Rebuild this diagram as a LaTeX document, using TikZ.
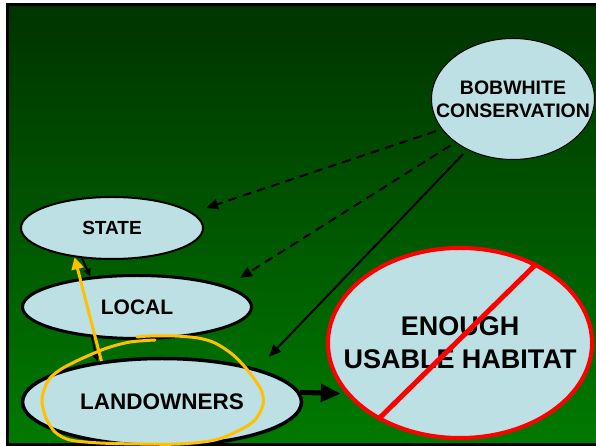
\documentclass[tikz,border=0pt]{standalone}
\usepackage{fontspec}
\setmainfont{Liberation Sans}
\usetikzlibrary{shapes.geometric,arrows.meta,calc}

\definecolor{topgreen}{RGB}{0,51,0}
\definecolor{bottomgreen}{RGB}{0,122,0}
\definecolor{paleblue}{RGB}{188,224,228}
\definecolor{marker}{RGB}{255,192,0}

\tikzset{
  bubble/.style={ellipse,fill=paleblue,draw=black,inner sep=0pt},
  caption/.style 2 args={align=center,font=\fontsize{#1}{#2}\selectfont\bfseries},
  dasharrow/.style={line width=2pt,dash pattern=on 9pt off 6pt,shorten <=6pt,-{Triangle[length=12pt,width=10pt]}},
}

\begin{document}
\begin{tikzpicture}[x=1pt,y=1pt]
\useasboundingbox (0,0) rectangle (596,446);
\shade[top color=topgreen,bottom color=bottomgreen] (7.5,1.5) rectangle (598,441.5);
\draw[line width=3pt] (7.5,1.5) rectangle (598,441.5);

\node[bubble,line width=1pt,minimum width=163pt,minimum height=121pt,
  label={[caption={19.5}{23}]center:BOBWHITE\\CONSERVATION}] (bobwhite) at (513,347) {};
\node[bubble,line width=2pt,minimum width=182pt,minimum height=62pt,
  label={[caption={19}{22}]center:STATE}] (state) at (112,218) {};
\node[bubble,line width=3pt,minimum width=229pt,minimum height=63pt,
  label={[caption={21}{25}]center:LOCAL}] (local) at (137,139) {};
\node[bubble,line width=3.5pt,minimum width=279pt,minimum height=87pt,
  label={[caption={22.5}{27}]center:LANDOWNERS}] (landowners) at (162,44) {};
\node[bubble,draw=red,line width=4pt,minimum width=264pt,minimum height=190pt,
  label={[caption={27}{33}]center:ENOUGH\\USABLE HABITAT}] (habitat) at (460,103) {};

% links from the top
\draw[dasharrow] (bobwhite.203) -- ($(state.east)+(2,20)$);
\draw[dasharrow] (bobwhite.217) -- ($(local.east)+(-13,29)$);
\draw[line width=2pt,shorten <=6pt,-{Triangle[length=12pt,width=10pt]}] (bobwhite.228) -- ($(landowners.north)+(107,0)$);

% chain down the left side
\draw[line width=2pt,-{Triangle[length=8pt,width=7pt]}] (state.225) -- (local.147);
\draw[line width=2pt,-{Triangle[length=8pt,width=7pt]}] (local.214) -- (landowners.148);
\draw[line width=5pt,shorten >=5pt,-{Triangle[length=20pt,width=17pt]}] (landowners.4) -- (habitat.204);

% crossed out
\draw[red,line width=5pt] (habitat.46) -- (habitat.223);

% marker
\draw[marker,line width=3pt,-{Triangle[length=12pt,width=12pt]}] (landowners.146) -- (state.218);
\draw[marker,line width=3pt,line cap=round] plot[smooth] coordinates {
  (155,106) (130,104) (107,98) (83,88) (63,78) (50,68) (44,56) (42,44)
  (46,28) (55,14) (70,6) (100,3) (140,2) (180,2) (215,6) (240,16) (255,26)
  (263,41) (262,54) (255,66) (245,79) (232,92) (215,103) (198,108) (175,110)
  (150,110) (137,109)};
\end{tikzpicture}
\end{document}
